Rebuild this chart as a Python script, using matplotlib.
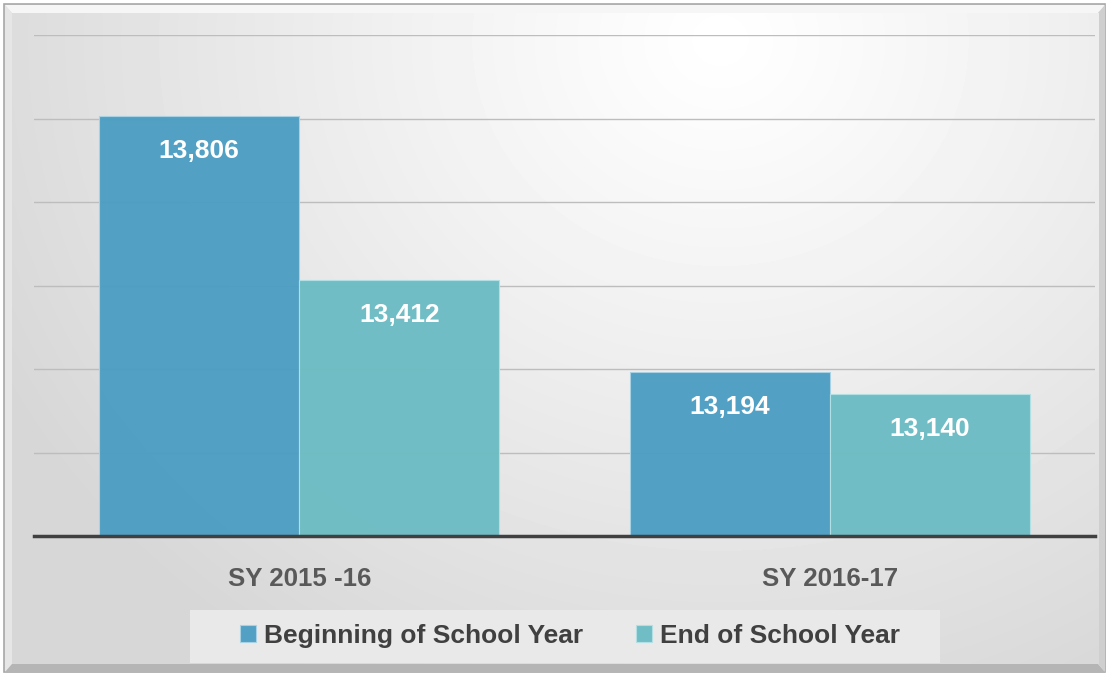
import numpy as np
import matplotlib.pyplot as plt
from matplotlib.patches import Rectangle, Polygon

plt.rcParams['font.family'] = ['Liberation Sans', 'DejaVu Sans']
plt.rcParams['font.weight'] = 'bold'

# 数据
categories = ['SY 2015 -16', 'SY 2016-17']
series_names = ['Beginning of School Year', 'End of School Year']
beginning = [13806, 13194]
end_year = [13412, 13140]
colors = ['#4d9ec3', '#6dbcc4']

W, H = 1110, 677
fig = plt.figure(figsize=(W / 100, H / 100), dpi=100)

# 背景层 (像素坐标)
bg = fig.add_axes([0, 0, 1, 1])
bg.axis('off')
bg.add_patch(Rectangle((4, 4), W - 9, H - 9, facecolor='#e2e2e2', edgecolor='#a8a8a8', lw=1.2, zorder=0))
bg.add_patch(Polygon([(5, 5), (W - 5, 5), (W - 12, 13), (12, 13)], facecolor='#f6f6f6', edgecolor='none', zorder=0.5))
bg.add_patch(Polygon([(5, 5), (12, 13), (12, 664), (5, H - 5)], facecolor='#e6e6e6', edgecolor='none', zorder=0.5))
bg.add_patch(Polygon([(5, H - 5), (12, 664), (W - 12, 664), (W - 5, H - 5)], facecolor='#b5b5b5', edgecolor='none', zorder=0.5))
bg.add_patch(Polygon([(W - 5, 5), (W - 5, H - 5), (W - 12, 664), (W - 12, 13)], facecolor='#cfcfcf', edgecolor='none', zorder=0.5))

# 径向渐变
yy, xx = np.mgrid[13:664, 12:W - 11]
d = np.hypot(xx - 720, (yy - 40) * 1.1)
g = 1 - 0.16 * np.clip(d / 820, 0, 1) ** 1.1
bg.imshow(g, cmap='gray', vmin=0, vmax=1, extent=(12, W - 11, 664, 13), aspect='auto', zorder=1)

# 图例底框
bg.add_patch(Rectangle((190, 610), 750, 53, facecolor='#e9e9e9', edgecolor='none', zorder=2))
bg.set_xlim(0, W)
bg.set_ylim(H, 0)

# 主图
ax = fig.add_axes([34 / W, 1 - 536 / H, (1095 - 34) / W, (536 - 35) / H])
ax.patch.set_alpha(0)
x = np.arange(len(categories))
w = 0.377
b1 = ax.bar(x - w / 2, beginning, width=w, color=colors[0], edgecolor='#a9d3e4', lw=0.8, alpha=0.97,
            label=series_names[0], zorder=2)
b2 = ax.bar(x + w / 2, end_year, width=w, color=colors[1], edgecolor='#b3e0e4', lw=0.8, alpha=0.97,
            label=series_names[1], zorder=2)

for bars in (b1, b2):
    for rect in bars:
        v = rect.get_height()
        ax.annotate(f'{v:,}', (rect.get_x() + rect.get_width() / 2, v), xytext=(0, -35),
                    textcoords='offset pixels', ha='center', va='center',
                    color='white', fontsize=19, fontweight='bold', zorder=3)

ax.set_xlim(-0.5, 1.5)
ax.set_ylim(12800, 14000)
ax.set_yticks(np.arange(12800, 14001, 200))
ax.yaxis.grid(True, color='#bdbdbd', lw=1)
ax.set_axisbelow(True)
ax.tick_params(axis='y', length=0, labelleft=False)
ax.set_xticks(x, categories)
ax.tick_params(axis='x', length=0, pad=22, labelsize=18.6, labelcolor='#595959')
for s in ['left', 'right', 'top']:
    ax.spines[s].set_visible(False)
ax.spines['bottom'].set_color('#404040')
ax.spines['bottom'].set_linewidth(2.5)
ax.spines['bottom'].set_zorder(4)

leg = fig.legend(handles=[b1, b2], labels=series_names, loc='center', bbox_to_anchor=(570 / W, 1 - 636 / H),
                 ncol=2, frameon=False, fontsize=19, handlelength=0.6, handleheight=0.6,
                 handletextpad=0.3, columnspacing=2.0, labelcolor='#404040')

fig.savefig('out.png', dpi=100)
